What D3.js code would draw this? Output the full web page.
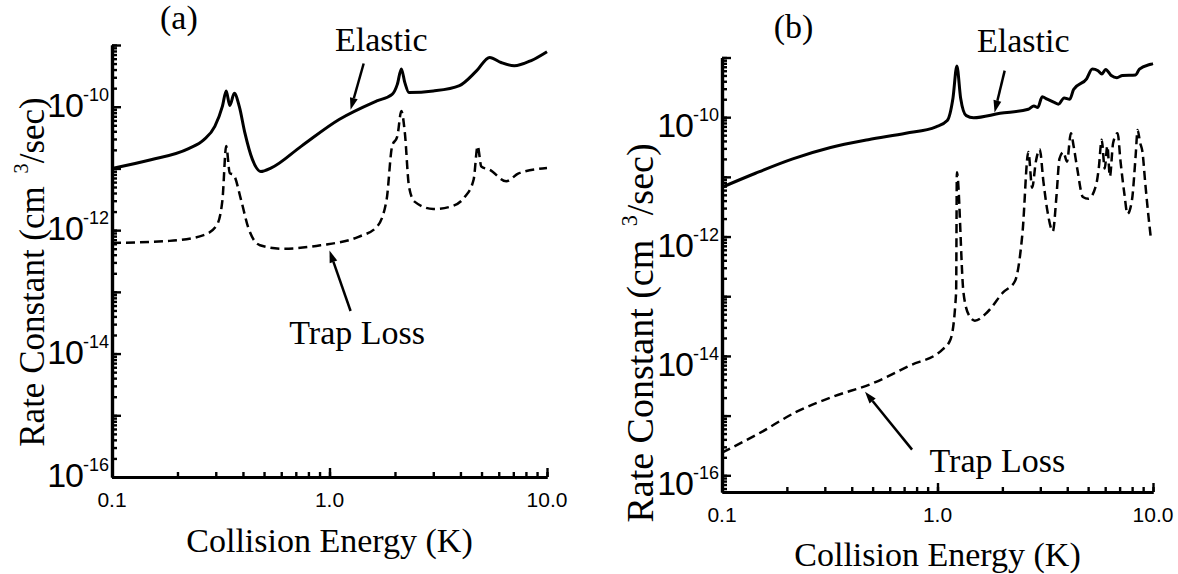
<!DOCTYPE html>
<html>
<head>
<meta charset="utf-8">
<script src="https://cdn.jsdelivr.net/npm/d3@7"></script>
<style>
  body { margin: 0; background: #fff; }
  svg { display: block; }
</style>
</head>
<body>
<svg id="chart" width="1178" height="574"></svg>
<script>
// ---- panel (a) ----
const aElasticE = [0.1, 0.151, 0.225, 0.264, 0.297, 0.322, 0.335, 0.348, 0.365, 0.385, 0.408, 0.442, 0.483, 0.54, 0.743, 1.107, 1.65, 1.94, 2.05, 2.14, 2.22, 2.32, 3.0, 3.96, 4.74, 5.45, 6.15, 7.07, 8.46, 10];
const aElasticK = [1.0e-11, 1.38e-11, 2.1e-11, 2.9e-11, 4.8e-11, 1.02e-10, 1.8e-10, 1.05e-10, 1.65e-10, 1.0e-10, 3.8e-11, 1.4e-11, 8.9e-12, 1.02e-11, 2.3e-11, 6.2e-11, 1.24e-10, 1.58e-10, 2.3e-10, 4.1e-10, 2.46e-10, 1.7e-10, 1.8e-10, 2.2e-10, 3.8e-10, 6.3e-10, 5.2e-10, 4.6e-10, 5.6e-10, 7.8e-10];
const aLossE = [0.1, 0.184, 0.264, 0.303, 0.322, 0.335, 0.348, 0.362, 0.392, 0.423, 0.479, 0.61, 0.91, 1.36, 1.65, 1.83, 1.94, 2.05, 2.14, 2.22, 2.32, 2.46, 3.0, 3.6, 4.2, 4.6, 4.8, 4.99, 5.45, 6.5, 7.4, 10];
const aLossK = [6.2e-13, 6.7e-13, 8.3e-13, 1.2e-12, 3.1e-12, 2.3e-11, 8.4e-12, 7.9e-12, 3.1e-12, 1.1e-12, 5.7e-13, 5.0e-13, 5.7e-13, 7.8e-13, 1.13e-12, 3.1e-12, 2.3e-11, 3.3e-11, 8.5e-11, 3.8e-11, 5.1e-12, 2.9e-12, 2.2e-12, 2.4e-12, 3.5e-12, 6.6e-12, 2.3e-11, 1.07e-11, 9.5e-12, 6.2e-12, 8.3e-12, 1.02e-11];

// ---- panel (b) ----
const bElasticE = [0.1, 0.143, 0.213, 0.319, 0.477, 0.713, 0.984, 1.11, 1.18, 1.23, 1.28, 1.36, 1.47, 1.95, 2.64, 2.8, 2.92, 3.06, 3.23, 3.5, 3.64, 3.87, 4.11, 4.28, 4.92, 5.23, 5.56, 5.79, 6.03, 6.4, 6.8, 7.22, 8.3, 8.65, 9.77, 10];
const bElasticK = [6.7e-12, 1.15e-11, 2.0e-11, 3.1e-11, 4.2e-11, 5.4e-11, 6.9e-11, 8.8e-11, 2.1e-10, 7.2e-10, 2.1e-10, 1.06e-10, 9.8e-11, 1.16e-10, 1.36e-10, 1.54e-10, 1.45e-10, 2.2e-10, 2.0e-10, 1.75e-10, 1.65e-10, 2.1e-10, 2.0e-10, 2.9e-10, 4.4e-10, 6.4e-10, 6.0e-10, 5.3e-10, 6.3e-10, 5.0e-10, 4.6e-10, 5.0e-10, 5.1e-10, 6.4e-10, 7.7e-10, 7.9e-10];
const bLossE = [0.1, 0.148, 0.221, 0.33, 0.493, 0.738, 1.06, 1.15, 1.22, 1.23, 1.32, 1.40, 1.49, 1.71, 2.01, 2.29, 2.48, 2.64, 2.75, 2.86, 2.98, 3.10, 3.23, 3.43, 3.57, 3.68, 3.84, 3.99, 4.16, 4.28, 4.45, 4.73, 5.02, 5.45, 5.6, 5.78, 5.97, 6.14, 6.31, 6.53, 6.85, 7.07, 7.37, 7.61, 7.98, 8.31, 8.48, 8.72, 8.94, 9.19, 9.46, 9.77];
const bLossK = [2.4e-16, 5.0e-16, 1.15e-15, 2.1e-15, 3.4e-15, 6.8e-15, 1.3e-14, 1.9e-14, 1.15e-13, 1.2e-11, 1.15e-13, 4.8e-14, 3.9e-14, 5.5e-14, 1.15e-13, 1.8e-13, 1.16e-12, 2.6e-11, 6.6e-12, 1.8e-11, 2.9e-11, 8.4e-12, 2.8e-12, 1.23e-12, 5.1e-12, 2.0e-11, 2.6e-11, 1.8e-11, 5.4e-11, 3.3e-11, 1.38e-11, 4.6e-12, 4.3e-12, 7.4e-12, 1.38e-11, 4.2e-11, 1.38e-11, 3.3e-11, 1.02e-11, 3.7e-11, 5.4e-11, 1.8e-11, 5.1e-12, 2.4e-12, 4.0e-12, 2.3e-11, 6.1e-11, 3.7e-11, 2.6e-11, 8.4e-12, 2.8e-12, 9.5e-13];

// ---- axis labels ----
const xTickLabels = ["0.1", "1.0", "10.0"];
const xTickValues = [0.1, 1, 10];
const yTickExps = [-10, -12, -14, -16];

const svg = d3.select("#chart");
const serif = "'Liberation Serif', 'Times New Roman', serif";
const sans = "'Liberation Sans', Arial, Helvetica, sans-serif";

function minorTicks(lo, hi) {
  let out = [];
  for (let e = Math.floor(Math.log10(lo)); e <= Math.ceil(Math.log10(hi)); e++) {
    for (let m = 1; m < 10; m++) {
      let v = m * Math.pow(10, e);
      if (v >= lo * 0.999 && v <= hi * 1.001) out.push(v);
    }
  }
  return out;
}

function panel(p) {
  const x = d3.scaleLog().domain([0.1, 10]).range([p.left, p.right]);
  const y = d3.scaleLog().domain(p.yDomain).range([p.bottom, p.top]);
  const g = svg.append("g");

  const yMinor = minorTicks(p.yDomain[0], p.yDomain[1]);
  const yMajor = yMinor.filter(v => Math.abs(Math.log10(v) - Math.round(Math.log10(v))) < 1e-6);
  const xMinor = minorTicks(0.1, 10);
  const xMajor = [0.1, 1, 10];

  // inside ticks
  g.append("g").attr("transform", `translate(${p.left},0)`)
    .call(d3.axisRight(y).tickValues(yMinor).tickSize(5).tickSizeOuter(0).tickFormat(""));
  g.append("g").attr("transform", `translate(${p.left},0)`)
    .call(d3.axisRight(y).tickValues(yMajor).tickSize(9).tickSizeOuter(0).tickFormat(""));
  g.append("g").attr("transform", `translate(0,${p.bottom})`)
    .call(d3.axisTop(x).tickValues(xMinor).tickSize(5).tickSizeOuter(0).tickFormat(""));
  g.append("g").attr("transform", `translate(0,${p.bottom})`)
    .call(d3.axisTop(x).tickValues(xMajor).tickSize(9).tickSizeOuter(0).tickFormat(""));
  g.selectAll(".tick line").attr("stroke", "#000").attr("stroke-width", 2.4);
  g.selectAll(".domain").attr("stroke", "#000").attr("stroke-width", 3.2);

  // y labels 10^n
  yTickExps.forEach(e => {
    const t = g.append("text")
      .attr("x", p.left - 3).attr("y", y(Math.pow(10, e)) + p.labelDy)
      .attr("text-anchor", "end").attr("font-family", sans).attr("fill", "#000");
    t.append("tspan").attr("font-size", 34).attr("letter-spacing", -1).text("10");
    t.append("tspan").attr("font-size", 18).attr("dy", -16).text(e);
  });
  // x labels
  xTickValues.forEach((v, i) => {
    g.append("text").attr("x", x(v)).attr("y", p.bottom + 30)
      .attr("text-anchor", "middle").attr("font-family", sans).attr("font-size", 21)
      .text(xTickLabels[i]);
  });

  // curves
  const path = d3.line().x(d => x(d[0])).y(d => y(d[1])).curve(d3.curveMonotoneX);
  g.append("path").datum(d3.zip(p.elE, p.elK)).attr("d", path)
    .attr("fill", "none").attr("stroke", "#000").attr("stroke-width", 3).attr("stroke-linejoin", "round");
  g.append("path").datum(d3.zip(p.lossE, p.lossK)).attr("d", path)
    .attr("fill", "none").attr("stroke", "#000").attr("stroke-width", 2.5).attr("stroke-dasharray", "9,5");

  // titles
  g.append("text").attr("x", p.left + (p.right - p.left) / 2).attr("y", p.xTitleY)
    .attr("text-anchor", "middle").attr("font-family", serif).attr("font-size", 34)
    .text("Collision Energy (K)");
  const yt = g.append("text")
    .attr("transform", `translate(${p.yTitleX},${p.yTitleY}) rotate(-90)`)
    .attr("text-anchor", "middle").attr("font-family", serif).attr("font-size", p.yTitleSize);
  yt.append("tspan").text("Rate Constant (cm ");
  yt.append("tspan").attr("font-size", p.yTitleSize * 0.58).attr("dx", 4).attr("dy", -16).text("3");
  yt.append("tspan").attr("dy", 16).text("/sec)");

  g.append("text").attr("x", x(p.tag[0])).attr("y", y(p.tag[1]))
    .attr("text-anchor", "middle").attr("font-family", serif).attr("font-size", 34).text(p.tag[2]);

  // annotations
  p.notes.forEach(n => {
    g.append("text").attr("x", x(n.tx)).attr("y", y(n.ty)).attr("text-anchor", n.anchor)
      .attr("font-family", serif).attr("font-size", 34).text(n.text);
    const x0 = x(n.a[0]), y0 = y(n.a[1]), x1 = x(n.a[2]), y1 = y(n.a[3]);
    const ang = Math.atan2(y1 - y0, x1 - x0);
    const hl = 12, hw = 4;
    const bx = x1 - hl * Math.cos(ang), by = y1 - hl * Math.sin(ang);
    g.append("line").attr("x1", x0).attr("y1", y0).attr("x2", bx).attr("y2", by)
      .attr("stroke", "#000").attr("stroke-width", 2.5);
    g.append("path").attr("fill", "#000")
      .attr("d", `M${x1},${y1}L${bx - hw * Math.sin(ang)},${by + hw * Math.cos(ang)}L${bx + hw * Math.sin(ang)},${by - hw * Math.cos(ang)}Z`);
  });
}

panel({
  left: 112, right: 547, top: 45, bottom: 477, yDomain: [1e-16, 1e-9], labelDy: 10,
  elE: aElasticE, elK: aElasticK, lossE: aLossE, lossK: aLossK,
  xTitleY: 552, yTitleX: 44, yTitleY: 272, yTitleSize: 35,
  tag: [0.203, Math.pow(10, -8.74), "(a)"],
  notes: [
    { text: "Elastic", tx: 1.73, ty: Math.pow(10, -9.1), anchor: "middle", a: [1.436, Math.pow(10, -9.3), 1.25, Math.pow(10, -10.05)] },
    { text: "Trap Loss", tx: 1.34, ty: Math.pow(10, -13.85), anchor: "middle", a: [1.25, Math.pow(10, -13.31), 1.0, Math.pow(10, -12.33)] }
  ]
});

panel({
  left: 722, right: 1153, top: 57.5, bottom: 492, yDomain: [Math.pow(10, -16.28), 1e-9], labelDy: 20,
  elE: bElasticE, elK: bElasticK, lossE: bLossE, lossK: bLossK,
  xTitleY: 566, yTitleX: 653, yTitleY: 333, yTitleSize: 38,
  tag: [0.215, Math.pow(10, -8.68), "(b)"],
  notes: [
    { text: "Elastic", tx: 2.5, ty: Math.pow(10, -8.9), anchor: "middle", a: [2.05, Math.pow(10, -9.22), 1.84, Math.pow(10, -9.92)] },
    { text: "Trap Loss", tx: 0.918, ty: Math.pow(10, -15.94), anchor: "start", a: [0.762, Math.pow(10, -15.57), 0.461, Math.pow(10, -14.6)] }
  ]
});
</script>
</body>
</html>
